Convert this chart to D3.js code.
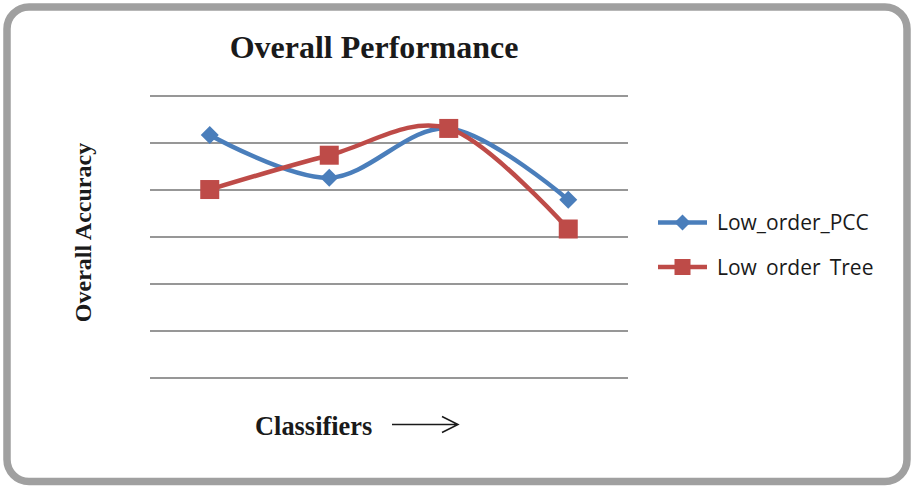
<!DOCTYPE html>
<html><head><meta charset="utf-8">
<script src="https://cdn.jsdelivr.net/npm/d3@7"></script>
<style>html,body{margin:0;padding:0;background:#fff;}svg{display:block;}</style>
</head><body>
<script>
const categories = ["Classifier 1", "Classifier 2", "Classifier 3", "Classifier 4"];
const pccValues = [91.7, 82.6, 93.1, 77.9];
const treeValues = [80.1, 87.4, 93.1, 71.7];
const gridTicks = [40, 50, 60, 70, 80, 90, 100];
const seriesNames = ["Low_order_PCC", "Low_order_Tree"];

const W = 913, H = 486;
const svg = d3.select("body").append("svg").attr("width", W).attr("height", H);

svg.append("rect").attr("x", 7).attr("y", 7).attr("width", 900).attr("height", 474.5)
  .attr("rx", 22).attr("ry", 22).attr("fill", "#fff").attr("stroke", "#a0a0a0").attr("stroke-width", 7.5);

const x = d3.scaleBand().domain(categories).range([150, 628]);
const y = d3.scaleLinear().domain([40, 100]).range([378, 96]);
const cx = d => x(d) + x.bandwidth() / 2;

svg.append("g").selectAll("line").data(gridTicks).join("line")
  .attr("x1", 150).attr("x2", 628)
  .attr("y1", d => Math.round(y(d))).attr("y2", d => Math.round(y(d)))
  .attr("stroke", "#979797").attr("stroke-width", 2);

const line = d3.line().x(d => cx(d.c)).y(d => y(d.v)).curve(d3.curveCardinal.tension(0));
const pccData = categories.map((c, i) => ({c, v: pccValues[i]}));
const treeData = categories.map((c, i) => ({c, v: treeValues[i]}));
const blue = "#4a7ebb", red = "#be4b48";

svg.append("path").datum(pccData).attr("d", line).attr("fill", "none").attr("stroke", blue).attr("stroke-width", 4.5);
svg.append("path").datum(treeData).attr("d", line).attr("fill", "none").attr("stroke", red).attr("stroke-width", 4.5);

const diamond = (g, px, py, r) => g.append("path")
  .attr("d", `M${px},${py - r}L${px + r},${py}L${px},${py + r}L${px - r},${py}Z`).attr("fill", blue);
const square = (g, px, py, s) => g.append("rect")
  .attr("x", px - s / 2).attr("y", py - s / 2).attr("width", s).attr("height", s).attr("fill", red);

pccData.forEach(d => diamond(svg, cx(d.c), y(d.v), 9));
treeData.forEach(d => square(svg, cx(d.c), y(d.v), 19));

const serif = "Liberation Serif, Times New Roman, serif";
svg.append("text").attr("x", 374).attr("y", 58).attr("text-anchor", "middle")
  .attr("font-family", serif).attr("font-weight", "bold")
  .attr("font-size", 32).attr("fill", "#1a1a1a").text("Overall Performance");

svg.append("text").attr("transform", "translate(91,232.5) rotate(-90)").attr("text-anchor", "middle")
  .attr("font-family", serif).attr("font-weight", "bold")
  .attr("font-size", 24).attr("fill", "#1a1a1a").text("Overall Accuracy");

svg.append("text").attr("x", 255).attr("y", 435)
  .attr("font-family", serif).attr("font-weight", "bold")
  .attr("font-size", 26.4).attr("fill", "#1a1a1a").text("Classifiers");
svg.append("path").attr("d", "M392,424.5H458M442,416.5L458,424.5L442,432.5")
  .attr("fill", "none").attr("stroke", "#1a1a1a").attr("stroke-width", 1.5);

const defs = svg.append("defs");
const legendY = [222.5, 267];
seriesNames.forEach((name, i) => {
  const ly = legendY[i];
  const g = svg.append("g");
  g.append("line").attr("x1", 658).attr("x2", 707).attr("y1", ly).attr("y2", ly)
    .attr("stroke", i === 0 ? blue : red).attr("stroke-width", 4.5);
  if (i === 0) diamond(g, 682.5, ly, 8); else square(g, 682.5, ly, 16);
  const t = g.append("text").attr("x", 717).attr("y", ly + 7.5)
    .attr("font-family", "Open Sans, Noto Sans, sans-serif").attr("font-size", 21)
    .attr("fill", "#1a1a1a").text(name);
  if (i === 1) {
    defs.append("clipPath").attr("id", "lc" + i).append("rect")
      .attr("x", 700).attr("y", ly - 20).attr("width", 200).attr("height", 28.5);
    t.attr("clip-path", `url(#lc${i})`);
  }
});
</script>
</body></html>
